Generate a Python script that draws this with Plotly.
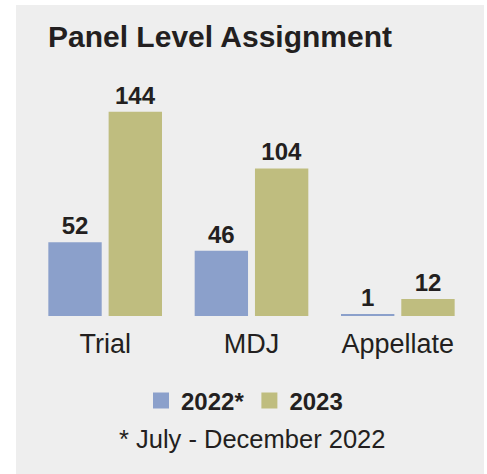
import plotly.graph_objects as go

categories = ["Trial", "MDJ", "Appellate"]
values_2022 = [52, 46, 1]
values_2023 = [144, 104, 12]
series_names = ["2022*", "2023"]
title_text = "Panel Level Assignment"
footnote_text = "* July - December 2022"

BLUE = "#8ba0cb"
OLIVE = "#bfbd7f"
TEXT = "#231f20"
PANEL = "#eeeeee"
FONT = "Liberation Sans, Arial, sans-serif"

W, H = 487, 474
L, R, T, B = 32, 16, 89, 158
plot_h = H - T - B

def py(px):
    return (H - B - px) / plot_h

def pxx(px):
    return (px - L) / (W - L - R)

fig = go.Figure()
for name, vals, col in [(series_names[0], values_2022, BLUE), (series_names[1], values_2023, OLIVE)]:
    fig.add_trace(go.Bar(
        x=categories, y=vals, name=name, marker=dict(color=col, line=dict(width=0)),
        text=[str(v) for v in vals], textposition="outside", cliponaxis=False,
        constraintext="none",
        textfont=dict(family=FONT, size=24, color=TEXT, weight="bold"),
        showlegend=False, hoverinfo="skip",
    ))
    fig.add_trace(go.Scatter(
        x=[None], y=[None], mode="markers", name=name,
        marker=dict(symbol="square", size=20, color=col), showlegend=True,
    ))

fig.add_shape(type="rect", xref="paper", yref="paper",
              x0=pxx(16), x1=pxx(484), y0=py(480), y1=py(5),
              fillcolor=PANEL, line=dict(width=0), layer="below")

fig.add_annotation(text=footnote_text, xref="paper", yref="paper", x=0.5, y=py(439),
                   xanchor="center", yanchor="middle", showarrow=False,
                   font=dict(family=FONT, size=25.5, color=TEXT))

fig.update_layout(
    width=W, height=H, margin=dict(l=L, r=R, t=T, b=B),
    paper_bgcolor="white", plot_bgcolor="rgba(0,0,0,0)",
    barmode="group", bargap=0.176, bargroupgap=0.115,
    title=dict(text=title_text, xref="container", yref="container",
               x=48 / W, y=1 - 36 / H, xanchor="left", yanchor="middle",
               font=dict(family=FONT, size=30, color=TEXT, weight="bold")),
    xaxis=dict(showline=False, showgrid=False, zeroline=False, ticks="",
               ticklabelstandoff=9,
               tickfont=dict(family=FONT, size=27, color=TEXT)),
    yaxis=dict(range=[0, 160], visible=False, showgrid=False, zeroline=False),
    legend=dict(orientation="h", x=0.5 - 7 / (W - L - R), xanchor="center",
                y=py(401), yanchor="middle",
                font=dict(family=FONT, size=24, color=TEXT, weight="bold"),
                bgcolor="rgba(0,0,0,0)"),
    font=dict(family=FONT, color=TEXT),
)

fig.write_html("out.html", config={"displayModeBar": False},
               post_script="document.body.style.margin='0';document.body.style.overflow='hidden';")
